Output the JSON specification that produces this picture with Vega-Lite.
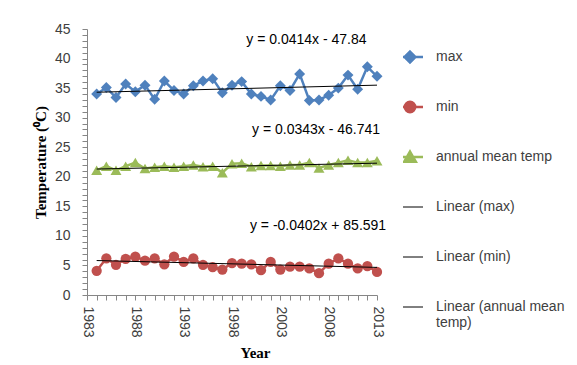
{
  "$schema": "https://vega.github.io/schema/vega-lite/v6.json",
  "width": 290,
  "height": 266,
  "autosize": {"type": "none"},
  "padding": {"left": 87, "top": 29, "right": 200, "bottom": 70},
  "background": "white",
  "config": {"view": {"stroke": null}, "font": "Liberation Sans"},
  "datasets": {
    "obs": [
      {"year": 1984, "max": 34.0, "min": 4.1, "annual mean temp": 21.1},
      {"year": 1985, "max": 35.1, "min": 6.2, "annual mean temp": 21.8},
      {"year": 1986, "max": 33.4, "min": 5.1, "annual mean temp": 21.1},
      {"year": 1987, "max": 35.7, "min": 6.1, "annual mean temp": 21.8},
      {"year": 1988, "max": 34.4, "min": 6.5, "annual mean temp": 22.4},
      {"year": 1989, "max": 35.5, "min": 5.8, "annual mean temp": 21.4},
      {"year": 1990, "max": 33.1, "min": 6.2, "annual mean temp": 21.6},
      {"year": 1991, "max": 36.2, "min": 5.2, "annual mean temp": 21.8},
      {"year": 1992, "max": 34.6, "min": 6.5, "annual mean temp": 21.6},
      {"year": 1993, "max": 34.0, "min": 5.6, "annual mean temp": 21.8},
      {"year": 1994, "max": 35.4, "min": 6.2, "annual mean temp": 22.0},
      {"year": 1995, "max": 36.2, "min": 5.1, "annual mean temp": 21.7},
      {"year": 1996, "max": 36.6, "min": 4.7, "annual mean temp": 21.8},
      {"year": 1997, "max": 34.2, "min": 4.3, "annual mean temp": 20.7},
      {"year": 1998, "max": 35.5, "min": 5.4, "annual mean temp": 22.2},
      {"year": 1999, "max": 36.1, "min": 5.3, "annual mean temp": 22.3},
      {"year": 2000, "max": 34.0, "min": 5.2, "annual mean temp": 21.7},
      {"year": 2001, "max": 33.6, "min": 4.2, "annual mean temp": 21.9},
      {"year": 2002, "max": 33.0, "min": 5.6, "annual mean temp": 21.9},
      {"year": 2003, "max": 35.4, "min": 4.3, "annual mean temp": 21.8},
      {"year": 2004, "max": 34.6, "min": 4.8, "annual mean temp": 22.0},
      {"year": 2005, "max": 37.4, "min": 4.8, "annual mean temp": 22.0},
      {"year": 2006, "max": 32.9, "min": 4.5, "annual mean temp": 22.4},
      {"year": 2007, "max": 33.0, "min": 3.7, "annual mean temp": 21.5},
      {"year": 2008, "max": 33.8, "min": 5.3, "annual mean temp": 22.0},
      {"year": 2009, "max": 35.0, "min": 6.2, "annual mean temp": 22.4},
      {"year": 2010, "max": 37.2, "min": 5.3, "annual mean temp": 22.8},
      {"year": 2011, "max": 34.8, "min": 4.5, "annual mean temp": 22.4},
      {"year": 2012, "max": 38.6, "min": 4.9, "annual mean temp": 22.4},
      {"year": 2013, "max": 37.0, "min": 3.9, "annual mean temp": 22.7}
    ],
    "trend": [
      {"series": "Linear (max)", "year": 1984, "temp": 34.30},
      {"series": "Linear (max)", "year": 2013, "temp": 35.50},
      {"series": "Linear (min)", "year": 1984, "temp": 5.83},
      {"series": "Linear (min)", "year": 2013, "temp": 4.67},
      {"series": "Linear (annual mean temp)", "year": 1984, "temp": 21.31},
      {"series": "Linear (annual mean temp)", "year": 2013, "temp": 22.30}
    ],
    "eq": [
      {"label": "y = 0.0414x - 47.84", "year": 2005.7, "temp": 43.1},
      {"label": "y = 0.0343x - 46.741", "year": 2006.7, "temp": 27.9},
      {"label": "y = -0.0402x + 85.591", "year": 2006.9, "temp": 11.7}
    ]
  },
  "encoding": {
    "x": {
      "field": "year",
      "type": "quantitative",
      "scale": {"domain": [1983, 2013], "nice": false, "zero": false},
      "axis": {
        "values": [1983,1984,1985,1986,1987,1988,1989,1990,1991,1992,1993,1994,1995,1996,1997,1998,1999,2000,2001,2002,2003,2004,2005,2006,2007,2008,2009,2010,2011,2012,2013],
        "format": "d",
        "labelExpr": "(datum.value - 1983) % 5 == 0 ? datum.label : ''",
        "labelAngle": 90,
        "labelFont": "Liberation Sans",
        "labelFontSize": 14,
        "labelColor": "#404040",
        "labelPadding": 6,
        "labelOverlap": false,
        "labelFlush": false,
        "labelBound": false,
        "tickSize": 5,
        "tickColor": "#868686",
        "domainColor": "#868686",
        "grid": false,
        "title": "Year",
        "titleFont": "Liberation Serif",
        "titleFontWeight": "bold",
        "titleFontSize": 15,
        "titleColor": "#000000",
        "titlePadding": 8,
        "titleX": 168
      }
    },
    "y": {
      "field": "temp",
      "type": "quantitative",
      "scale": {"domain": [0, 45], "nice": false},
      "axis": {
        "values": [0,1,2,3,4,5,6,7,8,9,10,11,12,13,14,15,16,17,18,19,20,21,22,23,24,25,26,27,28,29,30,31,32,33,34,35,36,37,38,39,40,41,42,43,44,45],
        "labelExpr": "datum.value % 5 == 0 ? datum.label : ''",
        "labelFont": "Liberation Sans",
        "labelFontSize": 14,
        "labelColor": "#404040",
        "labelPadding": 12,
        "labelOverlap": false,
        "labelFlush": false,
        "tickSize": 5,
        "tickColor": "#868686",
        "domainColor": "#868686",
        "grid": false,
        "title": "Temperature (⁰C)",
        "titleFont": "Liberation Serif",
        "titleFontWeight": "bold",
        "titleFontSize": 15,
        "titleColor": "#000000",
        "titlePadding": 6
      }
    }
  },
  "layer": [
    {
      "data": {"name": "obs"},
      "transform": [{"fold": ["max", "min", "annual mean temp"], "as": ["series", "temp"]}],
      "mark": {"type": "point", "filled": true, "opacity": 0},
      "encoding": {
        "color": {
          "field": "series",
          "type": "nominal",
          "scale": {
            "domain": ["max", "min", "annual mean temp", "Linear (max)", "Linear (min)", "Linear (annual mean temp)"],
            "range": ["#4F81BD", "#C0504D", "#9BBB59", "#000000", "#000000", "#000000"]
          },
          "legend": {
            "orient": "none",
            "legendX": 316,
            "legendY": 15,
            "title": null,
            "symbolSize": 676,
            "symbolOpacity": 1,
            "clipHeight": 26,
            "labelFont": "Liberation Sans",
            "labelFontSize": 14,
            "labelColor": "#404040",
            "labelLimit": 250,
            "labelOffset": 19,
            "rowPadding": 24,
            "labelExpr": "datum.label == 'Linear (annual mean temp)' ? ['Linear (annual mean', 'temp)'] : datum.label",
            "encode": {
              "symbols": {
                "update": {
                  "fill": {"scale": "color", "field": "value"},
                  "stroke": {"scale": "color", "field": "value"},
                  "strokeWidth": {"signal": "indexof(['max','min','annual mean temp'], datum.value) >= 0 ? 2.5 : 1"},
                  "opacity": {"value": 1}
                }
              }
            }
          }
        },
        "shape": {
          "field": "series",
          "type": "nominal",
          "scale": {
            "domain": ["max", "min", "annual mean temp", "Linear (max)", "Linear (min)", "Linear (annual mean temp)"],
            "range": [
              "M-1,0H1M0,-0.42L0.42,0L0,0.42L-0.42,0Z",
              "M-1,0H1M0.4,0A0.4,0.4,0,1,1,-0.4,0A0.4,0.4,0,1,1,0.4,0Z",
              "M-1,0H1M0,-0.42L0.45,0.36L-0.45,0.36Z",
              "M-1,0H1",
              "M-1,0H1",
              "M-1,0H1"
            ]
          },
          "legend": {
            "orient": "none",
            "legendX": 316,
            "legendY": 15,
            "title": null
          }
        }
      }
    },
    {
      "data": {"name": "obs"},
      "transform": [{"fold": ["max", "min", "annual mean temp"], "as": ["series", "temp"]}],
      "mark": {"type": "line", "strokeWidth": 2.5},
      "encoding": {
        "color": {"field": "series", "type": "nominal", "legend": null},
        "detail": {"field": "series"}
      }
    },
    {
      "data": {"name": "obs"},
      "transform": [{"fold": ["max"], "as": ["series", "temp"]}],
      "mark": {"type": "point", "shape": "diamond", "filled": true, "size": 120, "opacity": 1},
      "encoding": {"color": {"field": "series", "type": "nominal", "legend": null}}
    },
    {
      "data": {"name": "obs"},
      "transform": [{"fold": ["min"], "as": ["series", "temp"]}],
      "mark": {"type": "point", "shape": "circle", "filled": true, "size": 105, "opacity": 1},
      "encoding": {"color": {"field": "series", "type": "nominal", "legend": null}}
    },
    {
      "data": {"name": "obs"},
      "transform": [{"fold": ["annual mean temp"], "as": ["series", "temp"]}],
      "mark": {"type": "point", "shape": "triangle-up", "filled": true, "size": 120, "opacity": 1},
      "encoding": {"color": {"field": "series", "type": "nominal", "legend": null}}
    },
    {
      "data": {"name": "trend"},
      "mark": {"type": "line", "strokeWidth": 1},
      "encoding": {
        "color": {"field": "series", "type": "nominal", "legend": null},
        "detail": {"field": "series"}
      }
    },
    {
      "data": {"name": "eq"},
      "mark": {"type": "text", "font": "Liberation Sans", "fontSize": 14, "color": "#000000", "align": "center", "baseline": "middle"},
      "encoding": {"text": {"field": "label"}}
    }
  ]
}
